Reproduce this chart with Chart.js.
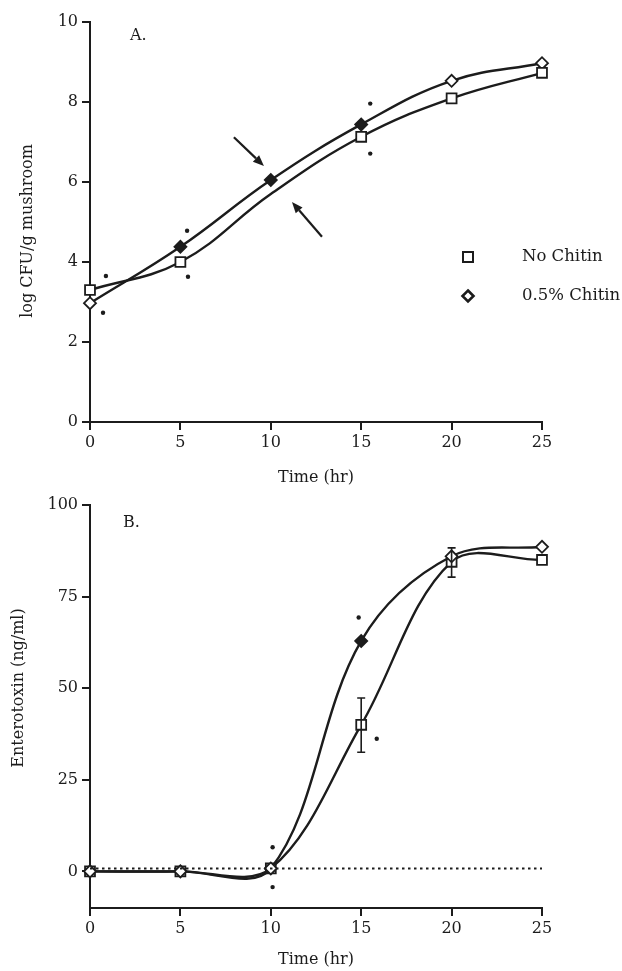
<!DOCTYPE html>
<html>
<head>
<meta charset="utf-8">
<script src="https://cdn.jsdelivr.net/npm/chart.js@4"></script>
<style>
  html, body { margin: 0; padding: 0; background: #fff; }
  #wrap { position: relative; width: 622px; height: 971px; }
  canvas { position: absolute; left: 0; }
  #chartA { top: 0; }
  #chartB { top: 490px; }
</style>
</head>
<body>
<div id="wrap">
  <canvas id="chartA" width="622" height="490"></canvas>
  <canvas id="chartB" width="622" height="481"></canvas>
</div>
<script>
const hours = [0, 5, 10, 15, 20, 25];
const xTicks = [0, 5, 10, 15, 20, 25];

// panel A: log CFU/g mushroom
const cfuNoChitin = [3.3, 4.0, 5.7, 7.13, 8.09, 8.73];
const cfuChitin = [2.97, 4.38, 6.05, 7.44, 8.53, 8.97];
const cfuMarkNoChitin = [true, true, false, true, true, true];
const cfuFilledChitin = [false, true, true, true, false, false];
const yTicksA = [0, 2, 4, 6, 8, 10];
const starXA = [0.88, 0.72, 5.37, 5.42, 15.5, 15.5];
const starYA = [3.65, 2.73, 4.78, 3.63, 7.96, 6.71];
// arrows: [x0, y0, x1, y1] in data units, head at (x1, y1)
const arrowsA = [[7.96, 7.12, 9.62, 6.4], [12.83, 4.63, 11.17, 5.5]];

// panel B: enterotoxin (ng/ml)
const toxNoChitin = [0, 0, 0.8, 40, 84.5, 85];
const toxChitin = [0, 0, 0.8, 62.9, 86, 88.6];
const toxFilledChitin = [false, false, false, true, false, false];
const toxErrLow = [null, null, null, 32.5, 80.3, null];
const toxErrHigh = [null, null, null, 47.3, 88.3, null];
const yTicksB = [0, 25, 50, 75, 100];
const starXB = [10.1, 10.1, 14.86, 15.86];
const starYB = [6.6, -4.3, 69.3, 36.2];
const baseX = [0, 25];
const baseY = [0.8, 0.8];

const ink = '#1c1c1c';
const serif = "'DejaVu Serif', 'Liberation Serif', serif";
Chart.defaults.font.family = serif;
Chart.defaults.color = ink;

function pts(xs, ys) {
  return xs.map((x, i) => ({ x: x, y: ys[i] }));
}

function scales(yMin, yMax, yTicks, xHeight, xTitlePad) {
  const grid = { drawOnChartArea: false, drawTicks: true, tickLength: 8, color: ink, lineWidth: 2 };
  const border = { display: true, color: ink, width: 2 };
  return {
    x: {
      type: 'linear', min: 0, max: 25,
      grid: grid, border: border,
      afterBuildTicks: s => { s.ticks = xTicks.map(v => ({ value: v })); },
      afterFit: s => { s.height = xHeight; },
      ticks: { font: { size: 16 }, padding: 3, color: ink },
      title: { display: true, text: 'Time (hr)', font: { size: 16 }, color: ink, padding: { top: 0, bottom: xTitlePad } }
    },
    y: {
      type: 'linear', min: yMin, max: yMax,
      grid: grid, border: border,
      afterBuildTicks: s => { s.ticks = yTicks.map(v => ({ value: v })); },
      afterFit: s => { s.width = 90; },
      ticks: { font: { size: 16 }, padding: 4, color: ink }
    }
  };
}

function lineSet(label, ys, style, radius, fill, tension) {
  return {
    label: label,
    data: pts(hours, ys),
    borderColor: ink,
    borderWidth: 2.4,
    tension: tension,
    pointStyle: style,
    pointRadius: radius,
    pointBackgroundColor: fill,
    pointBorderColor: ink,
    pointBorderWidth: 1.8,
    clip: false
  };
}

function starSet(xs, ys) {
  return {
    type: 'scatter',
    label: 'p < 0.05',
    data: pts(xs, ys),
    showLine: false,
    pointRadius: 2.2,
    pointBackgroundColor: ink,
    pointBorderWidth: 0,
    clip: false
  };
}

function yTitle(text, x, y) {
  return {
    id: 'yTitle',
    afterDraw(chart) {
      const ctx = chart.ctx;
      ctx.save();
      ctx.translate(x, y);
      ctx.rotate(-Math.PI / 2);
      ctx.font = '16px ' + serif;
      ctx.fillStyle = ink;
      ctx.textAlign = 'center';
      ctx.textBaseline = 'middle';
      ctx.fillText(text, 0, 0);
      ctx.restore();
    }
  };
}

function panelLabel(text, x, y) {
  return {
    id: 'panelLabel',
    afterDraw(chart) {
      const ctx = chart.ctx;
      ctx.save();
      ctx.font = '16px ' + serif;
      ctx.fillStyle = ink;
      ctx.textBaseline = 'middle';
      ctx.fillText(text, x, y);
      ctx.restore();
    }
  };
}

const arrowPlugin = {
  id: 'arrows',
  afterDatasetsDraw(chart) {
    const { ctx, scales: { x, y } } = chart;
    ctx.save();
    ctx.strokeStyle = ink;
    ctx.fillStyle = ink;
    ctx.lineWidth = 2.2;
    arrowsA.forEach(a => {
      const x0 = x.getPixelForValue(a[0]), y0 = y.getPixelForValue(a[1]);
      const x1 = x.getPixelForValue(a[2]), y1 = y.getPixelForValue(a[3]);
      const ang = Math.atan2(y1 - y0, x1 - x0);
      const hl = 11, hw = 4.5;
      const bx = x1 - hl * Math.cos(ang), by = y1 - hl * Math.sin(ang);
      ctx.beginPath();
      ctx.moveTo(x0, y0);
      ctx.lineTo(bx, by);
      ctx.stroke();
      ctx.beginPath();
      ctx.moveTo(x1, y1);
      ctx.lineTo(bx + hw * Math.sin(ang), by - hw * Math.cos(ang));
      ctx.lineTo(bx - hw * Math.sin(ang), by + hw * Math.cos(ang));
      ctx.closePath();
      ctx.fill();
    });
    ctx.restore();
  }
};

const legendPlugin = {
  id: 'legendA',
  afterDraw(chart) {
    const ctx = chart.ctx;
    ctx.save();
    ctx.strokeStyle = ink;
    ctx.fillStyle = '#fff';
    ctx.lineWidth = 2;
    ctx.fillRect(463, 252, 10, 10);
    ctx.strokeRect(463, 252, 10, 10);
    ctx.lineWidth = 2.6;
    ctx.beginPath();
    ctx.moveTo(468, 290.5);
    ctx.lineTo(473.5, 296);
    ctx.lineTo(468, 301.5);
    ctx.lineTo(462.5, 296);
    ctx.closePath();
    ctx.fill();
    ctx.stroke();
    ctx.fillStyle = ink;
    ctx.font = '16.5px ' + serif;
    ctx.textBaseline = 'middle';
    ctx.fillText(chart.data.datasets[0].label, 522, 257);
    ctx.fillText(chart.data.datasets[1].label, 522, 296);
    ctx.restore();
  }
};

const errorBarPlugin = {
  id: 'errorBars',
  afterDatasetsDraw(chart) {
    const { ctx, scales: { x, y } } = chart;
    ctx.save();
    ctx.strokeStyle = ink;
    ctx.lineWidth = 1.6;
    hours.forEach((h, i) => {
      if (toxErrLow[i] == null) return;
      const px = x.getPixelForValue(h);
      const lo = y.getPixelForValue(toxErrLow[i]);
      const hi = y.getPixelForValue(toxErrHigh[i]);
      ctx.beginPath();
      ctx.moveTo(px, lo); ctx.lineTo(px, hi);
      ctx.moveTo(px - 4, lo); ctx.lineTo(px + 4, lo);
      ctx.moveTo(px - 4, hi); ctx.lineTo(px + 4, hi);
      ctx.stroke();
    });
    ctx.restore();
  }
};

const common = {
  responsive: false,
  animation: false,
  events: [],
  plugins: { legend: { display: false }, tooltip: { enabled: false } }
};

new Chart(document.getElementById('chartA'), {
  type: 'line',
  data: {
    datasets: [
      lineSet('No Chitin', cfuNoChitin, 'rect', cfuMarkNoChitin.map(m => m ? 7 : 0), '#fff', 0.4),
      lineSet('0.5% Chitin', cfuChitin, 'rectRot', 6, cfuFilledChitin.map(f => f ? ink : '#fff'), 0.4),
      starSet(starXA, starYA)
    ]
  },
  options: Object.assign({}, common, {
    layout: { padding: { top: 22, right: 80, left: 0, bottom: 0 } },
    scales: scales(0, 10, yTicksA, 68, 3)
  }),
  plugins: [arrowPlugin, legendPlugin, yTitle('log CFU/g mushroom', 28, 231), panelLabel('A.', 130, 36)]
});

new Chart(document.getElementById('chartB'), {
  type: 'line',
  data: {
    datasets: [
      {
        label: 'baseline',
        data: pts(baseX, baseY),
        borderColor: ink,
        borderWidth: 2,
        borderDash: [2.5, 3.5],
        pointRadius: 0,
        tension: 0
      },
      lineSet('0.5% Chitin', toxChitin, 'rectRot', 6, toxFilledChitin.map(f => f ? ink : '#fff'), 0.35),
      lineSet('No Chitin', toxNoChitin, 'rect', 7, '#fff', 0.35),
      starSet(starXB, starYB)
    ]
  },
  options: Object.assign({}, common, {
    layout: { padding: { top: 15, right: 80, left: 0, bottom: 0 } },
    scales: scales(-10, 100, yTicksB, 63, 1.4)
  }),
  plugins: [errorBarPlugin, yTitle('Enterotoxin (ng/ml)', 19, 198), panelLabel('B.', 123, 33)]
});
</script>
</body>
</html>
